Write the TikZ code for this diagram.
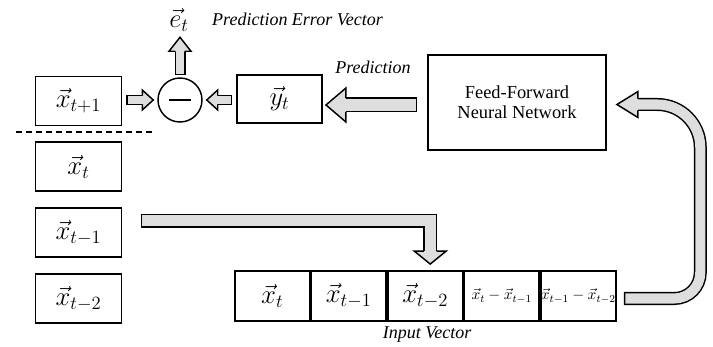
\documentclass[tikz,border=0pt]{standalone}
\usepackage{fix-cm}
\usepackage{fontspec}
\setmainfont{Liberation Serif}
\usetikzlibrary{positioning,calc}
\definecolor{arrowgray}{RGB}{222,222,222}

% head of a block arrow: tip, angle, length, width, shaft width (px)
\newcommand{\blockhead}[5]{%
  \begin{scope}[shift={(#1)}, rotate=#2]
    \fill[arrowgray] (0,0) -- (-#3,#4/2) -- (-#3,-#4/2) -- cycle;
    \draw[line width=1.1pt, line join=miter] (-#3,#5/2-0.7) -- (-#3,#4/2) -- (0,0) -- (-#3,-#4/2) -- (-#3,-#5/2+0.7);
  \end{scope}}

\begin{document}
\begin{tikzpicture}[
        x=0.75pt, y=0.75pt,
        node distance=11.25pt,
        vecbox/.style={draw, line width=1.4pt, minimum width=64.5pt, minimum height=36.75pt, inner sep=0pt, font=\fontsize{20}{24}\selectfont},
        inbox/.style={vecbox, minimum width=55.95pt, minimum height=37.5pt},
        diffbox/.style={inbox, font=\fontsize{11.5}{13}\selectfont},
        labeltext/.style={font=\fontsize{13.5}{16}\selectfont\itshape},
        blockshaft/.style 2 args={line width=#1, line join=miter, postaction={draw=arrowgray, line width=#2, shorten <=1.1pt}}
    ]
        \useasboundingbox (0,0) rectangle (713,346);

        % sequence
        \node[vecbox] (xt1) at (78.5,245) {$\vec{x}_{t+1}$};
        \node[vecbox, below=of xt1] (xt) {$\vec{x}_t$};
        \node[vecbox, below=of xt] (xtm1) {$\vec{x}_{t-1}$};
        \node[vecbox, below=of xtm1] (xtm2) {$\vec{x}_{t-2}$};
        \draw[line width=0.8pt, dash pattern=on 4.5pt off 3pt] (16,214) -- (153,214);

        % error
        \node[draw, circle, line width=1.1pt, minimum size=33pt, inner sep=0pt] (sub) at (180,246) {};
        \draw[line width=1.6pt] ($(sub.center)+(-11,0)$) -- ($(sub.center)+(11,0)$);
        \node[font=\fontsize{20}{24}\selectfont] (et) at (179,326) {$\vec{e}_t$};
        \node[labeltext] (errlbl) at (297.5,327) {Prediction Error Vector};

        \node[vecbox, minimum width=63.75pt, minimum height=36pt] (yt) at (279.5,247) {$\vec{y}_t$};
        \node[labeltext] (predlbl) at (373,279) {Prediction};
        \node[draw, line width=1.4pt, minimum width=133.5pt, minimum height=71.25pt, align=center,
              font=\fontsize{13.8}{15}\selectfont] (nn) at (517,243.5) {Feed-Forward\\Neural Network};

        % input vector
        \node[inbox] (c1) at (272.3,50) {$\vec{x}_t$};
        \node[inbox, right=0pt of c1] (c2) {$\vec{x}_{t-1}$};
        \node[inbox, right=0pt of c2] (c3) {$\vec{x}_{t-2}$};
        \node[diffbox, right=0pt of c3] (c4) {$\vec{x}_t-\vec{x}_{t-1}$};
        \node[diffbox, right=0pt of c4] (c5) {$\vec{x}_{t-1}-\vec{x}_{t-2}$};
        \node[labeltext] (inlbl) at (427,11) {Input Vector};

        % block arrows
        \coordinate (tipA) at ($(sub.west)+(-4,0)$);
        \draw[blockshaft={7.5pt}{5.3pt}] ($(xt1.east |- sub.west)+(4,0)$) -- ($(tipA)+(-9,0)$);
        \blockhead{tipA}{0}{11}{20}{10}

        \coordinate (tipB) at ($(sub.east)+(4,0)$);
        \draw[blockshaft={7.5pt}{5.3pt}] ($(yt.west |- sub.east)+(-4,0)$) -- ($(tipB)+(9,0)$);
        \blockhead{tipB}{180}{11}{20}{10}

        \coordinate (tipC) at ($(sub.north)+(0,40)$);
        \draw[blockshaft={8.25pt}{6.05pt}] ($(sub.north)+(0,2)$) -- ($(tipC)+(0,-12)$);
        \blockhead{tipC}{90}{14}{22}{11}

        \coordinate (tipD) at ($(yt.east)+(3,-6)$);
        \draw[blockshaft={11.25pt}{9.05pt}] ($(nn.west |- tipD)+(-10,0)$) -- ($(tipD)+(18,0)$);
        \blockhead{tipD}{180}{20}{34}{15}

        \coordinate (tipE) at ($(c3.north)+(5,6)$);
        \draw[blockshaft={10.5pt}{8.3pt}] ($(xtm1.east)+(18.5,12)$) -| ($(tipE)+(0,11)$);
        \blockhead{tipE}{-90}{13}{32}{14}

        \coordinate (startF) at ($(c5.east)+(7,-2.5)$);
        \coordinate (bend) at ($(c5.east)+(83.5,0)$);
        \coordinate (tipF) at ($(nn.east)+(10,-2)$);
        \draw[blockshaft={9.75pt}{7.55pt}] (startF) -- ($(bend |- startF)+(-26,0)$)
            arc[start angle=-90, end angle=0, radius=19.5pt] -- ($(bend |- tipF)+(0,-43)$)
            arc[start angle=0, end angle=90, radius=32.25pt] -- ($(tipF)+(19,0)$);
        \blockhead{tipF}{180}{21}{26}{13}
    \end{tikzpicture}
\end{document}
